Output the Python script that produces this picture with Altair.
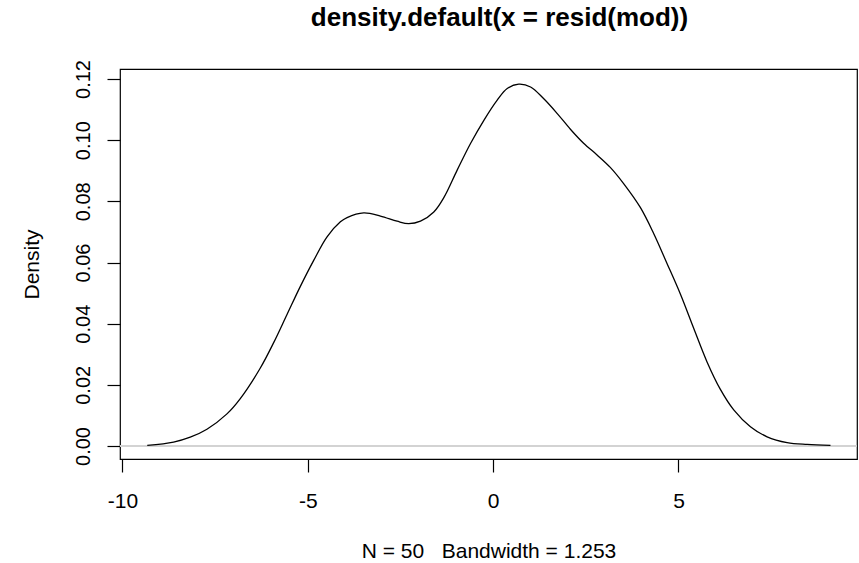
import altair as alt
import pandas as pd

# Density estimate (x = residual, y = density)
resid_x = [-9.33, -8.62, -8.17, -7.72, -7.18, -6.82, -6.28, -5.92, -5.56, -5.20, -4.84,
           -4.48, -4.12, -3.94, -3.49, -3.04, -2.59, -2.28, -1.96, -1.60, -1.33,
           -0.97, -0.61, -0.25, 0.11, 0.38, 0.69, 1.01, 1.36, 1.73, 2.09,
           2.44, 2.81, 3.16, 3.52, 3.97, 4.33, 4.69, 5.05, 5.41, 5.77,
           6.13, 6.49, 6.94, 7.39, 7.93, 8.47, 9.10]
density_y = [0.0002, 0.0013, 0.0029, 0.0055, 0.0105, 0.0155, 0.0255, 0.0338, 0.0430, 0.0522, 0.0607,
             0.0684, 0.0733, 0.0747, 0.0762, 0.0752, 0.0735, 0.0727, 0.0735, 0.0765, 0.0812,
             0.0902, 0.0989, 0.1065, 0.1131, 0.1169, 0.1183, 0.1174, 0.1136, 0.1087, 0.1035,
             0.0990, 0.0951, 0.0911, 0.0858, 0.0780, 0.0695, 0.0597, 0.0497, 0.0385, 0.0275,
             0.0185, 0.0118, 0.0063, 0.0030, 0.0011, 0.0005, 0.0002]

x_ticks = [-10, -5, 0, 5]
y_ticks = [0.0, 0.02, 0.04, 0.06, 0.08, 0.10, 0.12]

title_text = "density.default(x = resid(mod))"
x_title = "N = 50\u00a0\u00a0\u00a0Bandwidth = 1.253"
y_title = "Density"

df = pd.DataFrame({"x": resid_x, "y": density_y})

FONT = "Liberation Sans"
W, H = 737, 390

x_scale = alt.Scale(domain=[-10.065, 9.815], nice=False, zero=False)
y_scale = alt.Scale(domain=[-0.00425, 0.12327], nice=False, zero=False)

x_axis = alt.Axis(
    values=x_ticks, grid=False, domain=False,
    labelExpr="'' + datum.value",
    tickSize=13, tickColor="black", tickWidth=1.2,
    labelFont=FONT, labelFontSize=21, labelColor="black",
    labelBaseline="alphabetic", labelPadding=35, labelFlush=False,
    title=x_title, titleFont=FONT, titleFontSize=21, titleFontWeight="normal",
    titleColor="black", titleBaseline="alphabetic", titleAnchor="middle",
    titleX=W / 2, titleY=98,
)
y_axis = alt.Axis(
    values=y_ticks, format=".2f", grid=False, domain=False,
    tickSize=13, tickColor="black", tickWidth=1.2,
    labelFont=FONT, labelFontSize=20, labelColor="black",
    labelAngle=270, labelAlign="center", labelBaseline="alphabetic",
    labelPadding=18, labelFlush=False,
    title=y_title, titleFont=FONT, titleFontSize=21, titleFontWeight="normal",
    titleColor="black", titleAngle=270, titleAlign="center",
    titleBaseline="alphabetic", titleX=-82, titleY=195,
)

zero_line = alt.Chart(df).mark_rule(color="#d3d3d3", strokeWidth=1.6).encode(
    y=alt.datum(0, scale=y_scale)
)

curve = alt.Chart(df).mark_line(color="black", strokeWidth=1.3, interpolate="catmull-rom").encode(
    x=alt.X("x:Q", scale=x_scale, axis=x_axis),
    y=alt.Y("y:Q", scale=y_scale, axis=y_axis),
    order="x:Q",
)

chart = alt.layer(zero_line, curve).properties(
    width=W, height=H,
    title=alt.TitleParams(
        text=title_text, font=FONT, fontSize=26, fontWeight="bold", color="black",
        anchor="middle", frame="group", baseline="alphabetic", offset=8, dx=11,
    ),
).configure(
    autosize=alt.AutoSizeParams(type="none"),
    padding={"left": 120, "top": 69, "right": 2, "bottom": 104},
    background="white",
).configure_view(
    stroke="black", strokeWidth=1.2,
)

chart.save("out.html", embed_options={"renderer": "svg", "actions": False})
